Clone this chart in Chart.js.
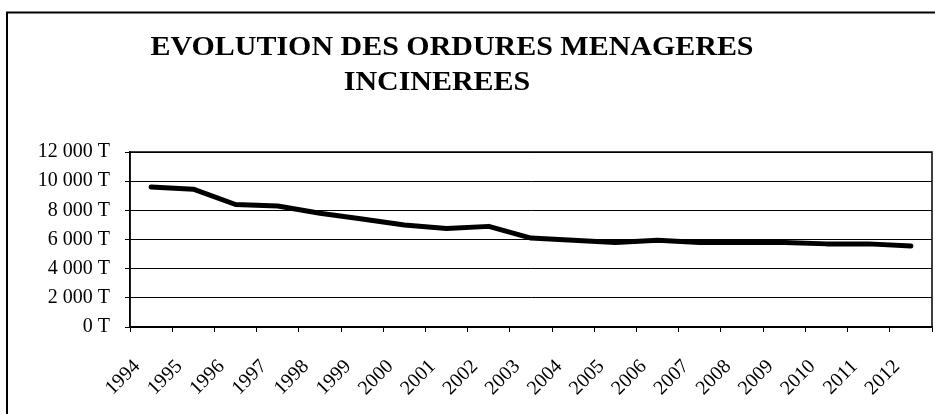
<!DOCTYPE html>
<html>
<head>
<meta charset="utf-8">
<script src="https://cdn.jsdelivr.net/npm/chart.js@4/dist/chart.umd.min.js"></script>
<style>
  html, body { margin: 0; padding: 0; background: #fff; }
  #wrap { width: 935px; height: 414px; position: relative; }
</style>
</head>
<body>
<div id="wrap"><canvas id="om-chart"></canvas></div>
<script>
// Données
const annees = ['1994', '1995', '1996', '1997', '1998', '1999', '2000', '2001', '2002', '2003',
                '2004', '2005', '2006', '2007', '2008', '2009', '2010', '2011', '2012'];
const tonnages = [9600, 9450, 8400, 8300, 7800, 7400, 7000, 6750, 6900, 6100,
                  5950, 5800, 5950, 5800, 5800, 5800, 5700, 5700, 5550];
const titreLignes = ['EVOLUTION DES ORDURES MENAGERES', 'INCINEREES'];

// Format "12 000 T"
function formatTonnes(v) {
    return String(v).replace(/\B(?=(\d{3})+(?!\d))/g, ' ') + ' T';
}

// Cadre extérieur, bordure du graphique et titre
const cadrePlugin = {
    id: 'cadre',
    beforeDraw(chart) {
        const ctx = chart.ctx;
        ctx.save();
        ctx.fillStyle = '#fff';
        ctx.fillRect(0, 0, chart.width, chart.height);
        ctx.strokeStyle = '#000';
        ctx.lineWidth = 2;
        ctx.beginPath();
        ctx.moveTo(7, chart.height + 2);
        ctx.lineTo(7, 12.5);
        ctx.lineTo(chart.width + 2, 12.5);
        ctx.stroke();
        ctx.restore();
    },
    afterDraw(chart) {
        const ctx = chart.ctx;
        const a = chart.chartArea;
        ctx.save();
        ctx.strokeStyle = '#000';
        ctx.lineWidth = 1.5;
        ctx.strokeRect(a.left, a.top, a.right - a.left, a.bottom - a.top);

        // titre, légèrement étiré en largeur comme l'original
        ctx.fillStyle = '#000';
        ctx.font = 'bold 27px "Liberation Serif", "Times New Roman", serif';
        ctx.textAlign = 'center';
        ctx.textBaseline = 'alphabetic';
        const pos = [[452, 55], [437, 90]];
        titreLignes.forEach((t, i) => {
            ctx.save();
            ctx.translate(pos[i][0], pos[i][1]);
            ctx.scale(1.11, 1);
            ctx.fillText(t, 0, 0);
            ctx.restore();
        });
        ctx.restore();
    }
};

const police = { family: '"Liberation Serif", "Times New Roman", serif', size: 20 };

const omConfig = {
    type: 'line',
    data: {
        labels: annees,
        datasets: [{
            label: 'Ordures ménagères incinérées',
            data: tonnages,
            borderColor: '#000',
            borderWidth: 5,
            borderCapStyle: 'round',
            borderJoinStyle: 'round',
            pointRadius: 0,
            fill: false,
            tension: 0
        }]
    },
    options: {
        responsive: true,
        maintainAspectRatio: false,
        animation: false,
        layout: { padding: { top: 152, left: 6, right: 3, bottom: 0 } },
        plugins: {
            legend: { display: false },
            title: { display: false },
            tooltip: { enabled: false }
        },
        scales: {
            x: {
                offset: true,
                grid: {
                    offset: true,
                    drawOnChartArea: false,
                    color: '#000',
                    tickLength: 5
                },
                border: { color: '#000', width: 1.5 },
                ticks: {
                    color: '#000',
                    font: police,
                    maxRotation: 45,
                    minRotation: 45,
                    autoSkip: false,
                    labelOffset: -14,
                    padding: 23
                },
                afterFit(s) {
                    s.height = 87;
                    s.paddingLeft = 0;
                    s.paddingRight = 0;
                }
            },
            y: {
                min: 0,
                max: 12000,
                ticks: {
                    stepSize: 2000,
                    color: '#000',
                    font: police,
                    padding: 15,
                    callback: (v) => formatTonnes(v)
                },
                grid: { color: '#000', lineWidth: 1, tickLength: 5 },
                border: { color: '#000', width: 1.5 },
                afterFit(s) { s.width = 124; }
            }
        }
    },
    plugins: [cadrePlugin]
};

new Chart(document.getElementById('om-chart'), omConfig);
</script>
</body>
</html>
